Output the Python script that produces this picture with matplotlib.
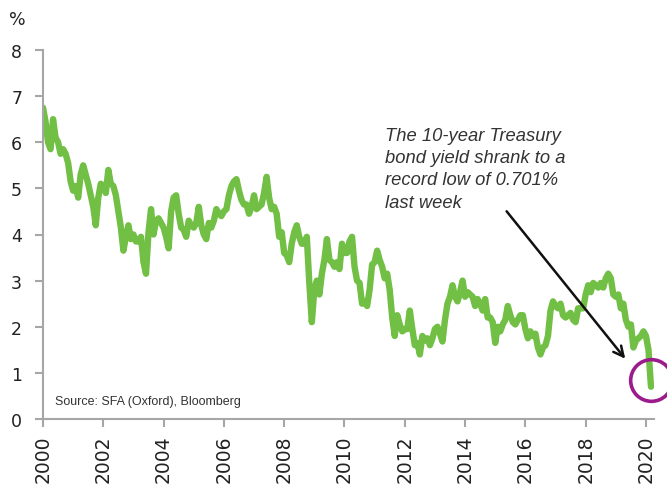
import numpy as np
import matplotlib
matplotlib.use("Agg")
import matplotlib.pyplot as plt

# 10-year Treasury yield, monthly readings (%), Jan 2000 - early Mar 2020
y2000 = [6.75, 6.45, 6.00, 5.85, 6.50, 6.10, 6.00, 5.75, 5.85, 5.75, 5.55, 5.15]
y2001 = [4.95, 5.05, 4.80, 5.30, 5.50, 5.30, 5.10, 4.85, 4.60, 4.20, 4.80, 5.10]
y2002 = [5.05, 4.90, 5.40, 5.10, 5.05, 4.85, 4.50, 4.15, 3.65, 3.95, 4.20, 3.90]
y2003 = [4.00, 3.85, 3.85, 3.95, 3.40, 3.15, 4.05, 4.55, 4.00, 4.30, 4.35, 4.25]
y2004 = [4.15, 3.95, 3.70, 4.50, 4.80, 4.85, 4.45, 4.15, 4.10, 3.95, 4.30, 4.20]
y2005 = [4.15, 4.25, 4.60, 4.20, 4.00, 3.90, 4.25, 4.15, 4.30, 4.55, 4.45, 4.40]
y2006 = [4.50, 4.55, 4.85, 5.05, 5.15, 5.20, 4.95, 4.75, 4.65, 4.65, 4.45, 4.60]
y2007 = [4.85, 4.55, 4.60, 4.65, 4.90, 5.25, 4.80, 4.55, 4.60, 4.45, 3.95, 4.05]
y2008 = [3.60, 3.55, 3.40, 3.80, 4.05, 4.20, 3.95, 3.80, 3.80, 3.95, 2.95, 2.10]
y2009 = [2.80, 3.00, 2.70, 3.15, 3.45, 3.90, 3.45, 3.40, 3.30, 3.40, 3.25, 3.80]
y2010 = [3.60, 3.60, 3.85, 3.95, 3.30, 3.00, 2.95, 2.50, 2.55, 2.45, 2.80, 3.35]
y2011 = [3.40, 3.65, 3.45, 3.30, 3.05, 3.15, 2.80, 2.20, 1.80, 2.25, 2.05, 1.90]
y2012 = [1.95, 1.95, 2.35, 1.95, 1.60, 1.65, 1.40, 1.80, 1.70, 1.75, 1.60, 1.75]
y2013 = [1.95, 2.00, 1.85, 1.68, 2.15, 2.50, 2.65, 2.90, 2.65, 2.55, 2.75, 3.00]
y2014 = [2.65, 2.75, 2.70, 2.65, 2.45, 2.60, 2.50, 2.35, 2.60, 2.20, 2.20, 2.10]
y2015 = [1.65, 2.00, 1.90, 2.05, 2.15, 2.45, 2.25, 2.10, 2.05, 2.15, 2.25, 2.25]
y2016 = [1.95, 1.75, 1.90, 1.80, 1.85, 1.55, 1.40, 1.55, 1.60, 1.80, 2.35, 2.55]
y2017 = [2.45, 2.40, 2.50, 2.25, 2.20, 2.25, 2.30, 2.15, 2.10, 2.40, 2.40, 2.40]
y2018 = [2.70, 2.90, 2.75, 2.95, 2.90, 2.85, 2.95, 2.85, 3.05, 3.15, 3.05, 2.70]
y2019 = [2.65, 2.70, 2.40, 2.50, 2.15, 2.00, 2.05, 1.55, 1.70, 1.75, 1.80, 1.90]
y2020 = [1.80, 1.50, 0.70]

yields = (y2000 + y2001 + y2002 + y2003 + y2004 + y2005 + y2006 + y2007 + y2008
          + y2009 + y2010 + y2011 + y2012 + y2013 + y2014 + y2015 + y2016
          + y2017 + y2018 + y2019 + y2020)
dates = 2000 + np.arange(len(yields)) / 12.0

year_ticks = list(range(2000, 2021, 2))
yield_ticks = list(range(0, 9))

note = "The 10-year Treasury\nbond yield shrank to a\nrecord low of 0.701%\nlast week"
source = "Source: SFA (Oxford), Bloomberg"

green = "#71bf45"
purple = "#9b1b8c"
grey = "#a6a6a6"

fig = plt.figure(figsize=(6.67, 4.89), dpi=100)
ax = fig.add_axes([43 / 667, 1 - 420 / 489, 610.5 / 667, 369 / 489])

ax.plot(dates, yields, color=green, lw=4.6, solid_joinstyle="round", solid_capstyle="round")

ax.set_xlim(2000, 2020.25)
ax.set_ylim(0, 8)
ax.set_xticks(year_ticks)
ax.set_yticks(yield_ticks)
ax.set_xticklabels([str(y) for y in year_ticks], rotation=90, fontsize=13.5, color="#222222")
ax.set_yticklabels([str(v) for v in yield_ticks], fontsize=12.5, color="#222222")
ax.tick_params(axis="both", direction="out", length=6, width=1.5, color=grey)
ax.tick_params(axis="y", pad=9)
ax.tick_params(axis="x", pad=5)

for side in ["top", "right"]:
    ax.spines[side].set_visible(False)
for side in ["left", "bottom"]:
    ax.spines[side].set_color(grey)
    ax.spines[side].set_linewidth(1.5)

fig.text(17 / 667, 1 - 20 / 489, "%", ha="center", va="center", fontsize=12.5, color="#222222")

# annotation text + arrow
ax.text(2011.33, 6.33, note, ha="left", va="top", style="italic", family="Liberation Sans",
        fontsize=13.2, color="#333333", linespacing=1.4)
ax.annotate("", xy=(2019.37, 1.26), xytext=(2015.32, 4.55),
            arrowprops=dict(arrowstyle="->", color="#111111", lw=1.8, mutation_scale=18))

# circle around the record low
ax.plot([2020.17], [0.85], marker="o", markersize=30, markerfacecolor="none",
        markeredgecolor=purple, markeredgewidth=2.6, clip_on=False)

ax.text(2000.4, 0.38, source, ha="left", va="center", family="Liberation Sans",
        fontsize=9.0, color="#333333")

plt.savefig("out.png", dpi=100)
